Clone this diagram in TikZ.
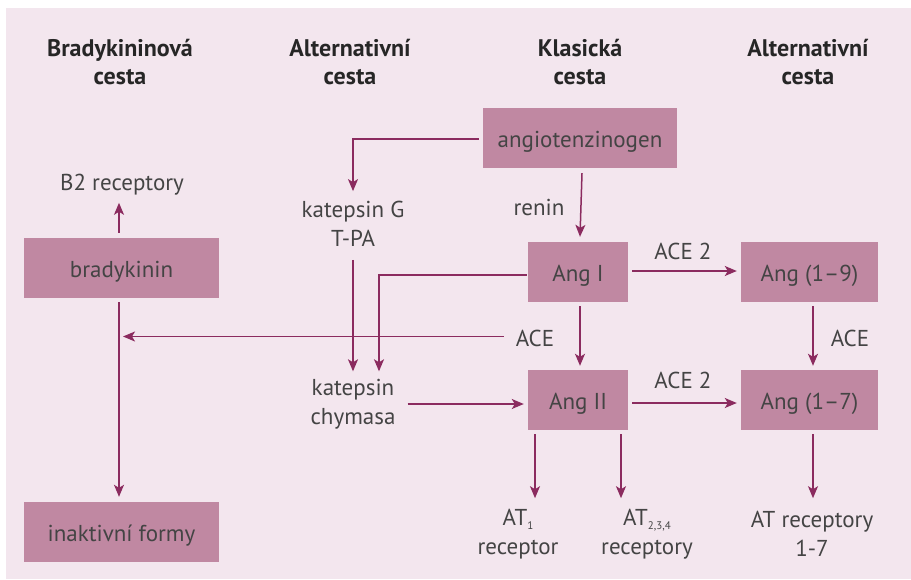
\documentclass[tikz,border=0pt]{standalone}
\usepackage{fontspec}
\setmainfont{PT Sans}
\usetikzlibrary{arrows.meta,calc}
\definecolor{bgc}{HTML}{F3E6EE}
\definecolor{boxc}{HTML}{C088A2}
\definecolor{arrc}{HTML}{8B2B5F}
\definecolor{txtc}{HTML}{444444}
\tikzset{
  box/.style={fill=boxc, draw=none, minimum height=60pt, inner sep=0pt, text height=22pt, text depth=2.5pt, text=txtc, font=\fontsize{23}{29}\selectfont},
  lbl/.style={inner sep=0pt, text=txtc, align=center, font=\fontsize{23}{29}\selectfont},
  hdr/.style={inner sep=0pt, text=black!85, align=center, font=\fontsize{24}{28}\selectfont\bfseries},
  arr/.style={draw=arrc, line width=1.5pt, -{Stealth[length=12pt,width=10pt,inset=3pt]}},
  ln/.style={draw=arrc, line width=1.5pt}
}
\begin{document}
\begin{tikzpicture}[x=1pt,y=-1pt]
\useasboundingbox (0,0) rectangle (911,579);
\fill[bgc] (6,8) rectangle (911,579);
% headers
\node[hdr] (h1) at (120,62) {Bradykininová\\cesta};
\node[hdr] (h2) at (350,62) {Alternativní\\cesta};
\node[hdr] (h3) at (580,62) {Klasická\\cesta};
\node[hdr] (h4) at (808,62) {Alternativní\\cesta};
% boxes
\node[box, minimum width=194pt] (ang) at (580,138) {angiotenzinogen};
\node[box, minimum width=195pt] (brad) at (121.5,268) {bradykinin};
\node[box, minimum width=100pt] (angI) at (578,272) {Ang I};
\node[box, minimum width=137pt] (a19) at (809.5,272) {Ang (1--9)};
\node[box, minimum width=100pt] (angII) at (578,400) {Ang II};
\node[box, minimum width=137pt] (a17) at (809.5,400) {Ang (1--7)};
\node[box, minimum width=195pt] (inak) at (121.5,532) {inaktivní formy};
% labels
\node[lbl] (b2) at (122,185) {B2 receptory};
\node[lbl] (kG) at (353,224) {katepsin G\\T-PA};
\node[lbl] (kat) at (353,404) {katepsin\\chymasa};
\node[lbl] (renin) at (539,207) {renin};
\node[lbl] (ace2a) at (683,251) {ACE 2};
\node[lbl] (ace2b) at (683,380) {ACE 2};
\node[lbl] (aceL) at (535,338) {ACE};
\node[lbl] (aceR) at (850,338) {ACE};
\node[lbl] (at1) at (518,534) {AT\raisebox{-0.35ex}{\fontsize{11}{11}\selectfont 1}\\receptor};
\node[lbl] (at2) at (647,534) {AT\raisebox{-0.35ex}{\fontsize{11}{11}\selectfont 2,3,4}\\receptory};
\node[lbl] (at7) at (812,534) {AT receptory\\1-7};
% connectors
\draw[arr] ([yshift=-1pt,xshift=-4pt]ang.west) -| ([yshift=10pt]kG.north);
\draw[arr] ([xshift=2pt,yshift=-5pt]ang.south) -- ([xshift=2pt,yshift=5pt]angI.north);
\draw[arr] ([xshift=-2.5pt,yshift=5pt]brad.north) -- ([xshift=-2.5pt,yshift=35pt]brad.north);
\draw[arr] ([xshift=-2.5pt,yshift=-4pt]brad.south) -- ([xshift=-2.5pt,yshift=5pt]inak.north);
\draw[arr] ([xshift=-12pt,yshift=1.5pt]aceL.west) -- ([xshift=1.5pt,yshift=1.5pt]aceL.west -| brad.south);
\draw[arr] ([xshift=-1pt,yshift=-3pt]angI.west) -| ([xshift=26pt,yshift=7.5pt]kat.north);
\draw[arr] ([yshift=-13pt]kG.south) -- ([yshift=7.5pt]kat.north);
\draw[arr] ([xshift=12pt]kat.east) -- ([xshift=-4pt]kat.east -| angII.west);
\draw[arr] ([xshift=4pt,yshift=1pt]angI.east) -- ([xshift=-4pt,yshift=1pt]a19.west);
\draw[arr] ([xshift=4pt,yshift=-3pt]angII.east) -- ([xshift=-4pt,yshift=-3pt]a17.west);
\draw[arr] ([xshift=2pt,yshift=-4pt]angI.south) -- ([xshift=2pt,yshift=4pt]angII.north);
\draw[arr] ([xshift=3.5pt,yshift=-4pt]a19.south) -- ([xshift=3.5pt,yshift=4pt]a17.north);
\draw[arr] ([xshift=-43pt,yshift=-4pt]angII.south) -- ([xshift=-43pt,yshift=-68pt]angII.south);
\draw[arr] ([xshift=43pt,yshift=-4pt]angII.south) -- ([xshift=43pt,yshift=-68pt]angII.south);
\draw[arr] ([xshift=3.5pt,yshift=-4pt]a17.south) -- ([xshift=3.5pt,yshift=-68pt]a17.south);
\end{tikzpicture}
\end{document}
